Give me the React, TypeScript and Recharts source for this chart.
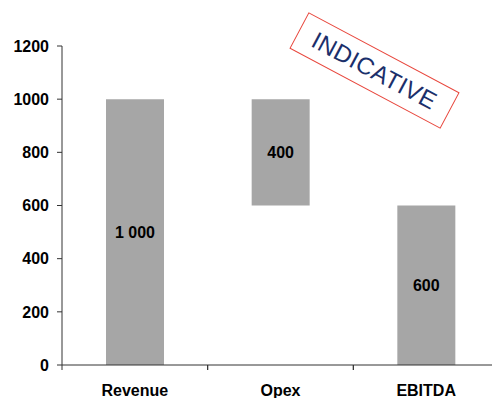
import { Bar, BarChart, LabelList, XAxis, YAxis } from "recharts";

const categories = ["Revenue", "Opex", "EBITDA"];
const bases = [0, 600, 0];
const values = [1000, 400, 600];
const yTicks = [0, 200, 400, 600, 800, 1000, 1200];

const data = categories.map((name, i) => ({
  name,
  base: bases[i],
  value: values[i]
}));

// chart geometry
const CHART_W = 500;
const CHART_H = 398;
const MARGIN = { top: 46, right: 1, left: 0, bottom: 5 };
const Y_AXIS_W = 62;
const BAND = (CHART_W - MARGIN.left - MARGIN.right - Y_AXIS_W) / categories.length;

const fmt = (v: number) => {
  const s = String(v);
  return s.length > 3 ? s.slice(0, s.length - 3) + " " + s.slice(-3) : s;
};

const CategoryTick = (props: any) => {
  const { x, y, payload } = props;
  return (
    <g>
      <line x1={x - BAND / 2} y1={y} x2={x - BAND / 2} y2={y + 5} stroke="#333" />
      <line x1={x + BAND / 2} y1={y} x2={x + BAND / 2} y2={y + 5} stroke="#333" />
      <text x={x} y={y + 31} textAnchor="middle" fontSize={16} fontWeight="bold" fill="#000">
        {payload.value}
      </text>
    </g>
  );
};

export default function App() {
  return (
    <div
      style={{
        position: "absolute",
        left: 0,
        top: 0,
        width: 492,
        height: 398,
        overflow: "hidden",
        background: "#fff",
        fontFamily: "'Liberation Sans', Arial, sans-serif"
      }}
    >
      <BarChart width={CHART_W} height={CHART_H} data={data} margin={MARGIN} barCategoryGap="60%">
        <XAxis
          dataKey="name"
          interval={0}
          tickLine={false}
          tickSize={0}
          tickMargin={0}
          height={28}
          axisLine={{ stroke: "#333" }}
          tick={<CategoryTick />}
        />
        <YAxis
          domain={[0, 1200]}
          ticks={yTicks}
          interval={0}
          width={Y_AXIS_W}
          tickSize={5}
          tickMargin={8}
          axisLine={{ stroke: "#333" }}
          tickLine={{ stroke: "#333" }}
          tick={{ fontSize: 16, fontWeight: "bold", fill: "#000" }}
        />
        <Bar dataKey="base" stackId="w" fill="transparent" barSize={58} isAnimationActive={false} />
        <Bar dataKey="value" stackId="w" fill="#a6a6a6" barSize={58} isAnimationActive={false}>
          <LabelList
            dataKey="value"
            position="center"
            formatter={(v: any) => fmt(Number(v))}
            style={{ fontSize: 16, fontWeight: "bold", fill: "#000" }}
          />
        </Bar>
      </BarChart>
      {/* stamp */}
      <div
        style={{
          position: "absolute",
          left: 289,
          top: 49.5,
          width: 171,
          height: 41,
          boxSizing: "border-box",
          border: "1.5px solid #e8463c",
          transform: "rotate(28deg)",
          display: "flex",
          alignItems: "center",
          justifyContent: "center",
          color: "#1b2f6b",
          fontSize: 24,
          letterSpacing: 0.5
        }}
      >
        INDICATIVE
      </div>
    </div>
  );
}
